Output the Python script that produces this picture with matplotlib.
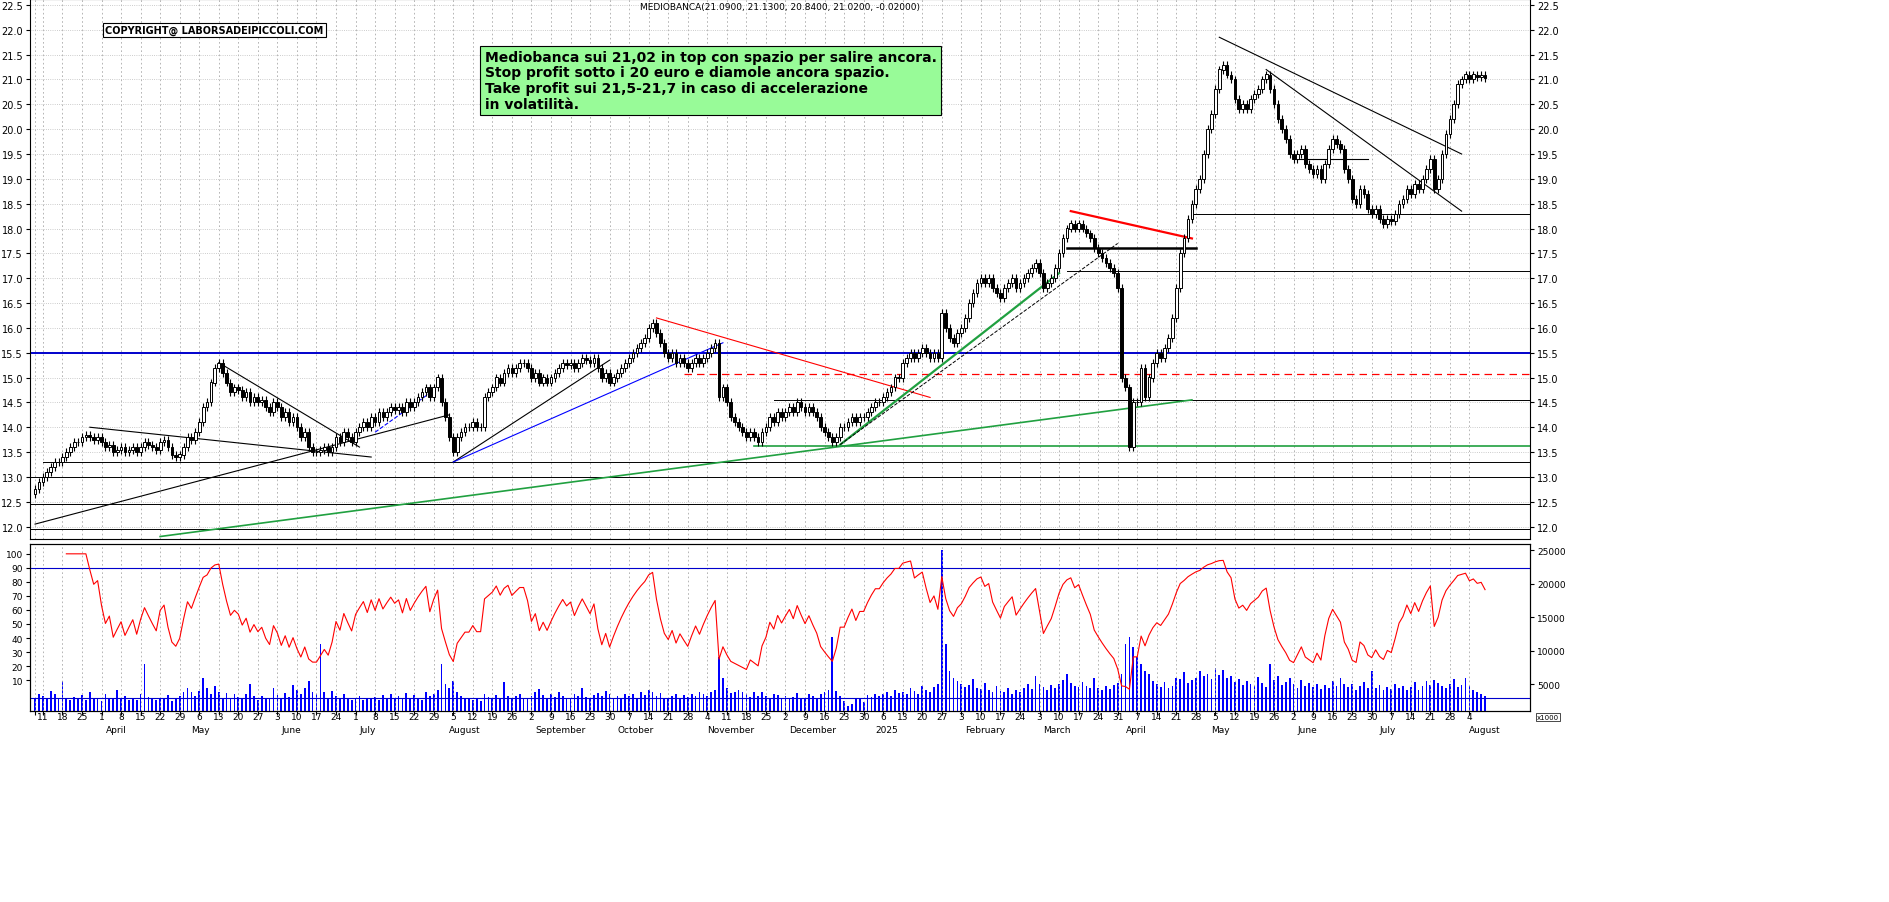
import numpy as np
import pandas as pd
import matplotlib
matplotlib.use("Agg")
import matplotlib.pyplot as plt
from matplotlib.transforms import blended_transform_factory as btf

title = "MEDIOBANCA(21.0900, 21.1300, 20.8400, 21.0200, -0.02000)"
closes = [12.75, 12.9,
 13.0,13.1,13.2,13.3,13.3, 13.4,13.5,13.6,13.7,13.7, 13.8,13.85,13.8,13.75,13.8,
 13.7,13.6,13.65,13.5,13.55, 13.6,13.5,13.55,13.6,13.5, 13.6,13.7,13.65,13.6,13.55,
 13.7,13.75,13.6,13.45,13.4, 13.45,13.6,13.8,13.75,13.9, 14.1,14.4,14.5,14.9,15.2,
 15.3,15.1,14.9,14.7,14.8, 14.75,14.6,14.7,14.5,14.6, 14.5,14.55,14.4,14.3,14.5,
 14.4,14.2,14.3,14.1,14.2, 14.0,13.8,13.9,13.6,13.5, 13.5,13.55,13.6,13.5,13.6,
 13.8,13.7,13.9,13.8,13.7, 13.9,14.0,14.1,14.0,14.2, 14.1,14.3,14.2,14.3,14.4,
 14.35,14.4,14.3,14.5,14.4, 14.5,14.6,14.7,14.8,14.6, 14.8,15.0,14.5,14.2,13.8,
 13.5,13.8,13.9,14.0,14.0, 14.1,14.0,14.0,14.6,14.7, 14.8,15.0,14.9,15.1,15.2,
 15.1,15.2,15.3,15.3,15.2, 15.0,15.1,14.9,15.0,14.9, 15.0,15.1,15.2,15.3,15.25,
 15.3,15.2,15.3,15.4,15.35, 15.3,15.4,15.2,15.0,15.1, 14.9,15.0,15.1,15.2,15.3,
 15.4,15.5,15.6,15.7,15.8, 16.0,16.1,15.9,15.7,15.5, 15.4,15.5,15.3,15.4,15.3,
 15.2,15.3,15.4,15.3,15.4, 15.5,15.6,15.7,14.6,14.8, 14.5,14.2,14.1,14.0,13.9,
 13.8,13.9,13.8,13.7,13.9, 14.0,14.2,14.1,14.3,14.2, 14.3,14.4,14.3,14.5,14.4,
 14.3,14.4,14.3,14.2,14.0, 13.9,13.8,13.7,13.8,14.0, 14.0,14.1,14.2,14.1,14.2,
 14.2,14.3,14.4,14.5,14.5, 14.6,14.7,14.8,15.0,15.0, 15.3,15.4,15.5,15.4,15.5,
 15.6,15.5,15.4,15.5,15.4, 16.3,16.0,15.8,15.7,15.9, 16.0,16.2,16.5,16.7,16.9,
 17.0,16.9,17.0,16.8,16.7, 16.6,16.8,16.9,17.0,16.8, 16.9,17.0,17.1,17.2,17.3,
 17.1,16.8,16.9,17.0,17.2, 17.5,17.8,18.0,18.1,18.0, 18.1,18.0,17.9,17.8,17.6,
 17.5,17.4,17.3,17.2,17.1, 16.8,15.0,14.8,13.6,14.5, 14.5,15.2,14.6,15.0,15.3,
 15.5,15.4,15.6,15.8,16.2, 16.8,17.5,17.8,18.2,18.5, 18.8,19.0,19.5,20.0,20.3,
 20.8,21.2,21.3,21.1,21.0, 20.6,20.4,20.5,20.4,20.6, 20.7,20.8,21.0,21.1,20.8,
 20.5,20.2,20.0,19.8,19.5, 19.4,19.5,19.6,19.3,19.2, 19.1,19.2,19.0,19.3,19.6,
 19.8,19.7,19.6,19.2,19.0, 18.6,18.5,18.8,18.7,18.4, 18.3,18.4,18.2,18.1,18.2,
 18.15,18.3,18.5,18.6,18.8, 18.7,18.9,18.8,19.0,19.2, 19.4,18.8,19.0,19.5,19.9,
 20.2,20.5,20.9,21.0,21.1, 21.0,21.1,21.05,21.09,21.02]
volume_k = [3.0,3.5,
 3.2,2.8,4.0,3.5,3.0, 5.5,3.0,2.6,3.1,2.9, 3.4,2.7,3.9,2.8,3.0, 2.5,3.6,3.0,2.9,4.1,
 2.8,3.3,2.6,3.0,2.7, 3.5,8.0,3.1,2.9,2.6, 2.8,3.0,3.4,2.5,2.9, 3.3,3.8,4.5,3.9,3.2,
 4.0,6.0,4.4,3.6,4.8, 3.9,3.0,3.7,2.8,3.5, 3.1,2.9,3.6,5.0,3.3, 2.7,3.2,3.0,2.8,4.5,
 3.4,2.9,3.7,3.1,4.9, 4.2,3.6,4.5,5.5,3.8, 3.5,11.0,3.9,3.0,4.0, 3.2,2.8,3.5,3.0,2.7,
 2.9,3.3,2.6,3.0,2.8, 3.1,2.7,3.4,2.9,3.6, 2.8,3.2,3.0,3.7,2.9, 3.4,3.0,2.7,3.8,3.3,
 3.5,4.2,8.0,5.0,4.5, 5.5,3.8,3.2,2.9,3.0, 2.6,2.8,2.5,3.6,3.1, 3.0,3.4,2.9,5.4,3.2,
 2.9,3.3,3.6,3.0,2.8, 3.2,3.8,4.3,3.4,3.0, 3.5,3.1,3.9,3.3,2.9, 3.0,3.6,3.2,4.4,3.1,
 2.9,3.4,3.7,3.2,4.0, 3.5,3.0,3.3,2.8,3.6, 3.2,3.6,3.0,3.8,3.4, 4.1,3.9,3.3,3.7,3.0,
 2.8,3.2,3.5,3.0,3.4, 3.1,3.6,3.3,3.9,3.5, 3.2,3.8,4.1,9.0,6.0, 4.5,3.7,3.9,4.2,3.8,
 3.5,3.1,3.8,3.3,3.9, 3.2,3.0,3.6,3.4,2.9, 3.3,2.8,3.1,3.7,3.0, 2.9,3.5,3.2,3.0,3.6,
 3.8,4.2,12.0,4.0,3.3, 2.5,1.8,2.0,2.8,3.0, 2.4,3.4,3.1,3.6,3.2, 3.5,3.9,3.3,4.1,3.7,
 3.8,3.5,4.4,4.0,3.6, 4.8,4.2,3.9,4.6,5.0, 25.0,11.0,7.0,6.0,5.5, 5.0,4.6,4.9,5.8,4.4,
 4.3,5.2,4.1,3.9,4.7, 4.0,3.8,4.5,3.6,4.2, 3.9,4.4,5.0,4.3,6.2, 5.1,4.6,4.2,4.9,4.4,
 5.0,5.6,6.5,5.2,4.7, 4.6,5.3,4.8,4.4,5.9, 4.5,4.1,4.8,4.3,4.9, 5.2,6.5,11.0,12.0,10.5,
 9.0,8.0,7.0,6.5,5.5, 5.0,4.6,5.3,4.4,4.8, 6.0,5.8,6.8,5.2,5.6, 5.9,7.0,6.2,6.6,5.8,
 7.5,6.4,7.1,5.9,6.2, 5.3,5.8,4.9,5.5,5.0, 4.8,6.1,5.2,4.6,8.0, 5.7,6.3,4.9,5.4,6.0,
 5.1,4.5,5.6,4.8,5.2, 4.6,5.0,4.3,4.9,4.4, 5.5,4.7,6.0,5.1,4.6, 5.0,4.2,4.8,5.3,4.4,
 7.0,4.5,4.9,4.1,4.6, 4.3,5.0,4.4,4.7,4.2, 4.6,5.3,4.1,4.8,5.5, 4.9,5.6,5.2,4.7,4.4,
 5.1,5.8,4.6,4.9,5.9, 4.8,4.2,3.9,3.6,3.2]
note = ("Mediobanca sui 21,02 in top con spazio per salire ancora.\n"
        "Stop profit sotto i 20 euro e diamole ancora spazio.\n"
        "Take profit sui 21,5-21,7 in caso di accelerazione\n"
        "in volatilità.")
trend = [
 ("2024-05-13",15.3,"2024-07-02",13.6,"black",0.8,"-"),
 ("2024-03-27",14.0,"2024-07-05",13.4,"black",0.8,"-"),
 ("2024-03-07",12.05,"2024-08-02",14.25,"black",0.8,"-"),
 ("2024-08-05",13.3,"2024-09-30",15.35,"black",0.8,"-"),
 ("2024-08-05",13.3,"2024-11-08",15.7,"blue",0.8,"-"),
 ("2024-07-08",13.9,"2024-07-30",14.8,"blue",0.8,"--"),
 ("2024-10-16",16.2,"2025-01-22",14.6,"red",0.8,"-"),
 ("2024-04-22",11.8,"2025-04-25",14.55,"#20a040",1.2,"-"),
 ("2024-12-20",13.65,"2025-03-10",17.1,"#20a040",1.6,"-"),
 ("2024-12-20",13.65,"2025-03-31",17.7,"black",0.7,"--"),
 ("2025-03-13",18.35,"2025-04-25",17.8,"red",1.6,"-"),
 ("2025-05-06",21.85,"2025-07-31",19.5,"black",0.8,"-"),
 ("2025-05-22",21.2,"2025-07-31",18.35,"black",0.8,"-"),
 ("2025-06-02",19.4,"2025-06-27",19.4,"black",0.8,"-"),
]
hlines = [
 (15.5,None,"#0000cc",1.4,"-"),(15.08,"2024-10-25","red",0.9,(0,(6,4))),
 (18.3,"2025-04-25","black",0.7,"-"),(17.15,"2025-03-12","black",0.7,"-"),
 (14.55,"2024-11-27","black",0.7,"-"),(13.63,"2024-11-20","#20a040",1.2,"-"),
 (13.3,"2024-03-11","black",0.7,"-"),(13.0,None,"black",0.7,"-"),
 (12.45,None,"black",0.7,"-"),(11.95,None,"black",0.7,"-"),
]

N = len(closes)
dates = pd.bdate_range("2024-03-07", periods=N)
c = np.array(closes)
o = np.r_[c[0]-0.1, c[:-1]]
h = np.maximum(o, c)+0.08
l = np.minimum(o, c)-0.08
x = np.arange(N)
def di(s):
    return int(np.searchsorted(dates, pd.Timestamp(s)))

fig = plt.figure(figsize=(18.9, 9.03), dpi=100)
W, H = 1890, 903
ax = fig.add_axes([30/W, 1-540/H, 1500/W, 540/H])
ax2 = fig.add_axes([30/W, 1-712/H, 1500/W, 167/H], sharex=ax)
xl = (-1.3, N-1+11.5)
ax.set_xlim(*xl); ax.set_ylim(11.75, 22.62)

up = c >= o
ax.vlines(x, l, h, color="black", lw=0.8, zorder=3)
ax.bar(x[up], (c-o)[up]+0.001, bottom=o[up], width=0.7, color="white", edgecolor="black", lw=0.7, zorder=4)
ax.bar(x[~up], (o-c)[~up], bottom=c[~up], width=0.7, color="black", edgecolor="black", lw=0.7, zorder=4)

for p, s, col, w, ls in hlines:
    x0 = xl[0] if s is None else di(s)
    ax.plot([x0, xl[1]], [p, p], color=col, lw=w, ls=ls, zorder=2)
ax.plot([di("2025-03-12"), di("2025-04-28")], [17.6, 17.6], color="black", lw=1.8, zorder=2)
for a, ya, b, yb, col, w, ls in trend:
    ax.plot([di(a), di(b)], [ya, yb], color=col, lw=w, ls=ls, zorder=2)

yt = np.arange(12.0, 22.51, 0.5)
ax.set_yticks(yt); ax.set_yticklabels([f"{v:.1f}" for v in yt], fontsize=7)
ax.tick_params(axis="y", which="both", left=True, right=True, labelleft=True, labelright=True, length=3, pad=2)
ax.grid(True, axis="y", color="#bbbbbb", ls=":", lw=0.6)

wk = [i for i in range(N) if i == 0 or dates[i].weekday() < dates[i-1].weekday()]
for a_ in (ax, ax2):
    a_.set_xticks(wk)
    a_.grid(True, axis="x", color="#aaaaaa", ls=(0, (2, 3)), lw=0.6)
ax.tick_params(axis="x", labelbottom=False, length=0)
ax2.tick_params(axis="x", labelbottom=False, length=3)

tr = btf(ax2.transData, fig.transFigure)
for i in wk[1:]:
    fig.text(i, 1-718/H, str(dates[i].day), transform=tr, fontsize=6.5, ha="center", va="center")
for i in range(1, N):
    if dates[i].month != dates[i-1].month:
        lab = "2025" if dates[i].month == 1 else dates[i].strftime("%B")
        fig.text(i+1, 1-731/H, lab, transform=tr, fontsize=6.5, ha="left", va="center")

ax.text(0.5, 0.995, title, transform=ax.transAxes, fontsize=6.5, ha="center", va="top")
ax.text(di("2024-04-02"), 22.0, "COPYRIGHT@ LABORSADEIPICCOLI.COM", fontsize=7, fontweight="bold",
        va="center", bbox=dict(facecolor="white", edgecolor="black", lw=0.8, pad=1.5))
ax.text(di("2024-08-15"), 21.6, note, fontsize=10, fontweight="bold", va="top", linespacing=1.15,
        bbox=dict(facecolor="#98fb98", edgecolor="black", lw=0.8, pad=3))

# RSI computed from closes (Wilder smoothing)
d = np.diff(c, prepend=c[0])
g = pd.Series(np.clip(d, 0, None)).ewm(alpha=1/7, adjust=True).mean()
ls_ = pd.Series(np.clip(-d, 0, None)).ewm(alpha=1/7, adjust=True).mean()
rsi = (100*g/(g+ls_+1e-9)).to_numpy()
ax2.set_ylim(-12, 107)
ax2.plot(x[8:], rsi[8:], color="red", lw=0.8, zorder=3)
ax2.axhline(90, color="#0000cc", lw=0.8)
ax2.axhline(-3, color="#0000cc", lw=0.8)
ax2.set_yticks(range(10, 101, 10)); ax2.set_yticklabels([str(v) for v in range(10, 101, 10)], fontsize=6.5)
ax2.tick_params(axis="y", length=3, pad=2)
ax3 = ax2.twinx()
ax3.set_xlim(*xl)
ax3.bar(x, np.array(volume_k)*1000, width=0.45, color="#0000ff", zorder=1)
ax3.set_ylim(1000, 25960)
ax3.set_yticks([5000, 10000, 15000, 20000, 25000])
ax3.set_yticklabels(["5000", "10000", "15000", "20000", "25000"], fontsize=6.5)
ax3.tick_params(axis="y", length=3, pad=2)
ax2.set_zorder(ax3.get_zorder()+1); ax2.patch.set_visible(False)
fig.text(1537/W, 1-720/H, "x1000", fontsize=5, bbox=dict(facecolor="white", edgecolor="black", lw=0.5, pad=0.5))
fig.savefig("out.png", dpi=100, facecolor="white")
